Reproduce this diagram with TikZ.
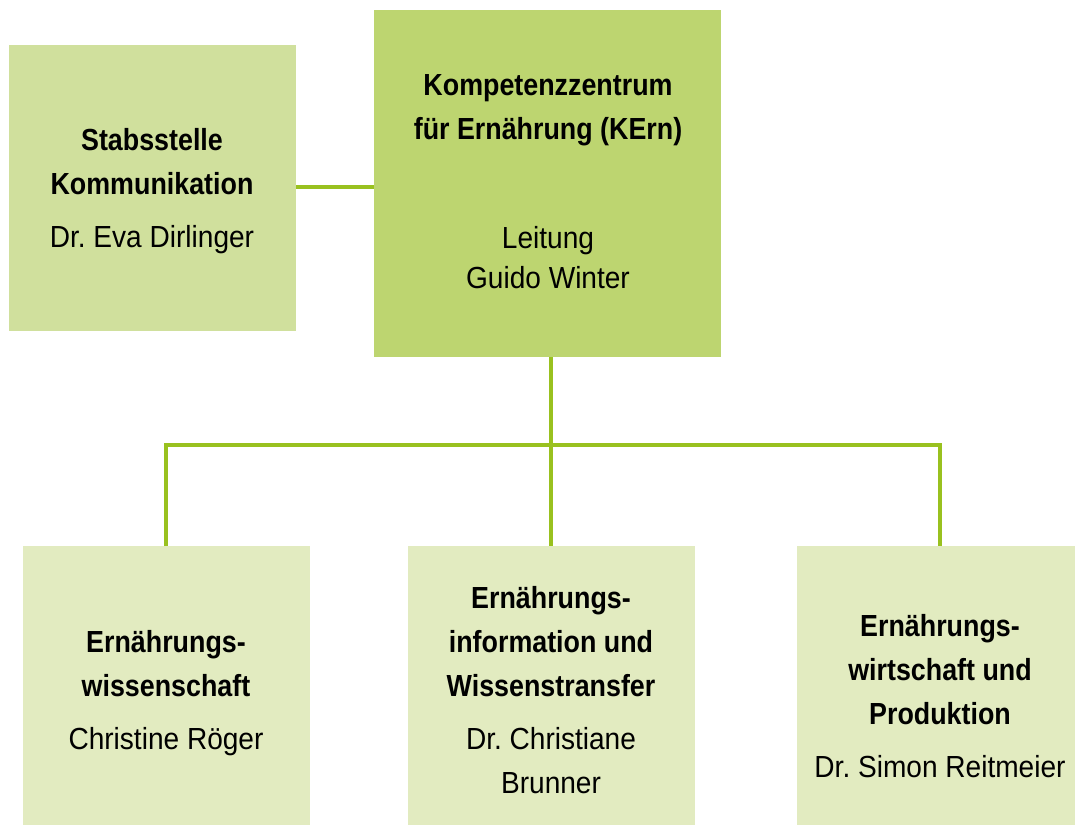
\documentclass[tikz,border=0pt]{standalone}
\usepackage{fontspec}
\setmainfont[FakeStretch=0.92,BoldFeatures={FakeStretch=0.88}]{Liberation Sans}
\frenchspacing
\definecolor{boxA}{HTML}{D0E09D}
\definecolor{boxK}{HTML}{BDD570}
\definecolor{boxB}{HTML}{E2EBC0}
\definecolor{linec}{HTML}{99C11F}
\tikzset{
  orgbox/.style={fill=#1, draw=none, inner sep=0pt},
  conn/.style={draw=linec, line width=4pt},
  txt/.style={align=center, inner sep=0pt, font=\fontsize{30.5}{44}\selectfont},
}
\begin{document}
\begin{tikzpicture}[x=1pt,y=-1pt]
\useasboundingbox (0,0) rectangle (1075,825);
% boxes
\path[orgbox=boxA] (9,45) rectangle (296,331);
\coordinate (sR) at (296,187);
\path[orgbox=boxK] (374,10) rectangle (721,357);
\coordinate (kL) at (374,187);
\coordinate (kB) at (551,357);
\path[orgbox=boxB] (23,546) rectangle (310,825);
\path[orgbox=boxB] (408,546) rectangle (695,825);
\path[orgbox=boxB] (797,546) rectangle (1075,825);
\coordinate (b1) at (166,546);
\coordinate (b2) at (551,546);
\coordinate (b3) at (940,546);
\coordinate (jl) at (166,445);
\coordinate (jr) at (940,445);
% connectors
\draw[conn] (sR) -- (kL);
\draw[conn] (kB) -- (b2);
\draw[conn] (b1) -- (jl) -- (jr) -- (b3);
% texts
\node[txt] (ts) at (152,191) {\textbf{Stabsstelle}\\\textbf{Kommunikation}\\[9pt]Dr. Eva Dirlinger};
\node[txt] (tk1) at (548,110) {\textbf{Kompetenzzentrum}\\\textbf{für Ernährung (KErn)}};
\node[txt, font=\fontsize{30.5}{40}\selectfont] (tk2) at (548,258) {Leitung\\Guido Winter};
\node[txt] (t1) at (166,693) {\textbf{Ernährungs-}\\\textbf{wissenschaft}\\[9pt]Christine Röger};
\node[txt] (t2) at (551,690) {\textbf{Ernährungs-}\\\textbf{information und}\\\textbf{Wissenstransfer}\\[9pt]Dr. Christiane\\Brunner};
\node[txt] (t3) at (940,696) {\textbf{Ernährungs-}\\\textbf{wirtschaft und}\\\textbf{Produktion}\\[9pt]Dr. Simon Reitmeier};
\end{tikzpicture}
\end{document}
